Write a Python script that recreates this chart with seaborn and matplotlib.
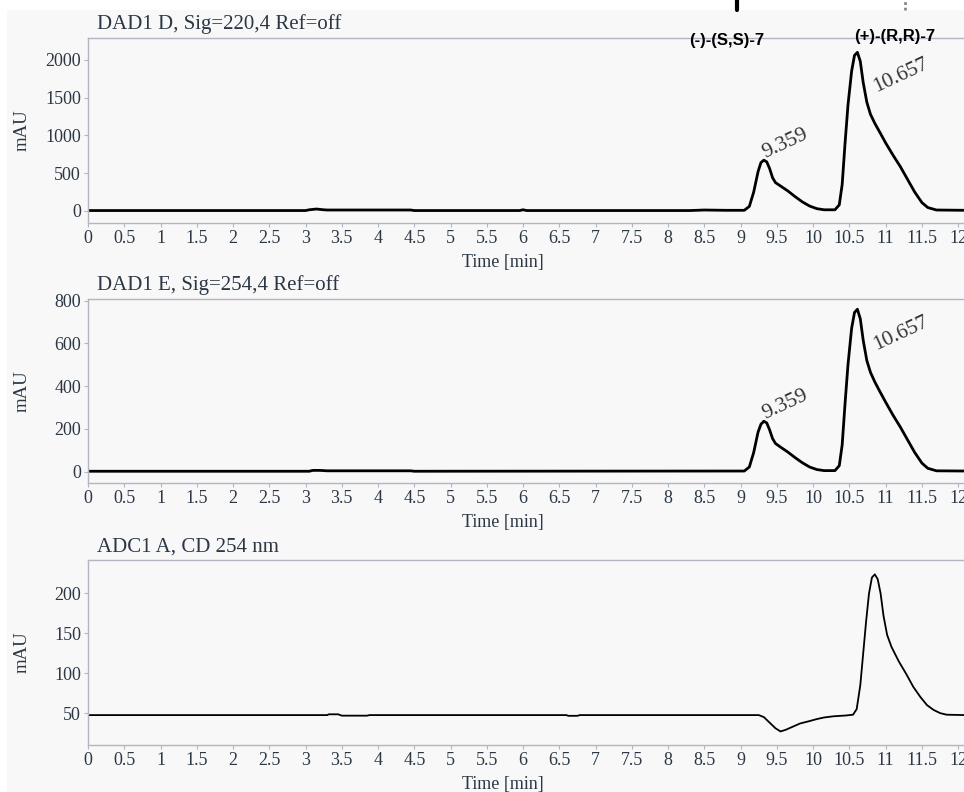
import matplotlib
matplotlib.use("Agg")
import matplotlib.pyplot as plt
import seaborn as sns
from matplotlib.lines import Line2D
from matplotlib.patches import Rectangle

# DAD1 D, 220 nm trace (time in min, signal in mAU)
t_dad_d = [0, 3.0, 3.05, 3.15, 3.25, 3.3, 4.45, 4.5, 5.95, 6.0, 6.05, 8.3, 8.5, 8.8,
           9.05, 9.12, 9.18, 9.24, 9.28, 9.32, 9.36, 9.40, 9.44, 9.48, 9.55, 9.65, 9.75,
           9.85, 9.95, 10.05, 10.15, 10.30, 10.36, 10.40, 10.44, 10.48, 10.53, 10.57,
           10.61, 10.65, 10.69, 10.74, 10.79, 10.85, 10.92, 11.00, 11.10, 11.20, 11.30,
           11.40, 11.50, 11.58, 11.70, 12.1]
y_dad_d = [5, 5, 15, 25, 15, 12, 12, 5, 5, 15, 5, 5, 12, 8,
           8, 60, 250, 520, 640, 672, 650, 560, 440, 375, 330, 265, 190,
           120, 65, 30, 15, 15, 80, 350, 900, 1400, 1850, 2060,
           2100, 1980, 1700, 1440, 1280, 1160, 1040, 900, 740, 590, 420,
           250, 110, 45, 12, 8]

# DAD1 E, 254 nm trace
t_dad_e = [0, 3.05, 3.1, 3.2, 3.3, 4.45, 4.5, 9.05, 9.12, 9.18, 9.24, 9.28, 9.32,
           9.36, 9.40, 9.44, 9.48, 9.55, 9.65, 9.75, 9.85, 9.95, 10.05, 10.15, 10.30,
           10.36, 10.40, 10.44, 10.48, 10.53, 10.57, 10.61, 10.65, 10.69, 10.74,
           10.79, 10.85, 10.92, 11.00, 11.10, 11.20, 11.30, 11.40, 11.50, 11.58, 11.70, 12.1]
y_dad_e = [2, 2, 6, 6, 4, 4, 2, 3, 22, 90, 185, 222, 236,
           228, 195, 155, 132, 115, 92, 66, 42, 22, 10, 5, 5,
           28, 125, 320, 500, 670, 745, 760, 715, 615, 520,
           465, 420, 375, 325, 265, 210, 150, 90, 40, 16, 4, 3]

# ADC1 A, CD 254 nm trace
t_cd = [0, 3.3, 3.32, 3.45, 3.5, 3.85, 3.88, 6.6, 6.62, 6.75, 6.78, 9.25, 9.32,
        9.40, 9.48, 9.55, 9.62, 9.72, 9.82, 9.95, 10.05, 10.15, 10.28, 10.45,
        10.55, 10.60, 10.65, 10.69, 10.73, 10.77, 10.81, 10.85, 10.89, 10.93,
        10.97, 11.02, 11.08, 11.18, 11.29, 11.38, 11.48, 11.57, 11.66, 11.75,
        11.84, 12.1]
y_cd = [47.5, 47.5, 48.5, 48.5, 46.8, 46.8, 47.5, 47.5, 46.6, 46.6, 47.5, 47.5, 45,
        38, 31, 27, 29, 33, 37, 40, 42.5, 44.5, 46, 47,
        48, 55, 85, 125, 165, 200, 220, 224, 218, 200,
        172, 148, 133, 115, 98, 83, 70, 60, 54, 50,
        48, 47.5]

titles = ["DAD1 D, Sig=220,4 Ref=off", "DAD1 E, Sig=254,4 Ref=off", "ADC1 A, CD 254 nm"]
peak_times = [9.359, 10.657]
peak_labels = ["9.359", "10.657"]
peak_heights_d = [670, 2100]
peak_heights_e = [235, 760]
x_ticks = [0, 0.5, 1, 1.5, 2, 2.5, 3, 3.5, 4, 4.5, 5, 5.5, 6, 6.5, 7, 7.5, 8, 8.5,
           9, 9.5, 10, 10.5, 11, 11.5, 12]
x_tick_labels = ["0", "0.5", "1", "1.5", "2", "2.5", "3", "3.5", "4", "4.5", "5", "5.5",
                 "6", "6.5", "7", "7.5", "8", "8.5", "9", "9.5", "10", "10.5", "11",
                 "11.5", "12"]

sns.set_theme(style="ticks")
plt.rcParams["font.family"] = ["Liberation Serif", "DejaVu Serif"]

bg = "#f8f8f8"
spine_col = "#b4b4c4"
txt_col = "#2b3745"

fig = plt.figure(figsize=(9.64, 7.92), dpi=100, facecolor=bg)
W, H = 964.0, 792.0

def make_ax(top_px, bottom_px):
    return fig.add_axes([88 / W, 1 - bottom_px / H, (964 - 88) / W, (bottom_px - top_px) / H])

ax1 = make_ax(38, 223)
ax2 = make_ax(299, 483)
ax3 = make_ax(560, 745)

sns.lineplot(x=t_dad_d, y=y_dad_d, ax=ax1, color="black", lw=2.0, sort=False)
sns.lineplot(x=t_dad_e, y=y_dad_e, ax=ax2, color="black", lw=2.0, sort=False)
sns.lineplot(x=t_cd, y=y_cd, ax=ax3, color="black", lw=1.3, sort=False)

ax1.set_ylim(-160, 2290)
ax1.set_yticks([0, 500, 1000, 1500, 2000])
ax2.set_ylim(-53, 808)
ax2.set_yticks([0, 200, 400, 600, 800])
ax3.set_ylim(10, 242)
ax3.set_yticks([50, 100, 150, 200])

for ax, title in zip([ax1, ax2, ax3], titles):
    ax.set_facecolor(bg)
    ax.set_xlim(0, 12.08)
    ax.set_xticks(x_ticks)
    ax.set_xticklabels(x_tick_labels)
    ax.tick_params(colors=spine_col, labelcolor=txt_col, labelsize=13, length=3,
                   width=0.8, pad=2)
    for s in ["left", "bottom", "top"]:
        ax.spines[s].set_color(spine_col)
        ax.spines[s].set_linewidth(1.0)
    ax.spines["right"].set_visible(False)
    ax.set_xlabel("Time [min]", fontsize=13, color=txt_col, va="top")
    ax.xaxis.set_label_coords(0.474, -0.17)
    ax.set_ylabel("mAU", fontsize=13.5, color=txt_col)
    ax.yaxis.set_label_coords(-0.066, 0.5)
    ax.text(0.01, 1.02, title, transform=ax.transAxes, fontsize=15, color=txt_col,
            ha="left", va="bottom")

# retention-time labels
for ax, heights in [(ax1, peak_heights_d), (ax2, peak_heights_e)]:
    for t, h, lab in zip(peak_times, heights, peak_labels):
        if lab == "9.359":
            ax.text(t + 0.01, h * 0.95, lab, rotation=25, fontsize=15.5, color="#333333",
                    ha="left", va="bottom", rotation_mode="anchor")
        else:
            ax.text(t + 0.24, h * 0.72, lab, rotation=25, fontsize=15.5, color="#333333",
                    ha="left", va="bottom", rotation_mode="anchor")

# enantiomer labels above the top trace
fig.text(727 / W, 1 - 41 / H, "(-)-(S,S)-7", family=["Liberation Sans", "DejaVu Sans"],
         fontweight="bold", fontsize=12, color="black", ha="center", va="center")
fig.text(895 / W, 1 - 37 / H, "(+)-(R,R)-7", family=["Liberation Sans", "DejaVu Sans"],
         fontweight="bold", fontsize=12, color="black", ha="center", va="center")

# white crop strips at the top and left of the original picture
fig.patches.append(Rectangle((0, 1 - 10 / H), 1, 10 / H, transform=fig.transFigure,
                             facecolor="white", edgecolor="none", zorder=5))
fig.patches.append(Rectangle((0, 0), 7 / W, 1, transform=fig.transFigure,
                             facecolor="white", edgecolor="none", zorder=5))
fig.lines.append(Line2D([737 / W, 737 / W], [1 - 10 / H, 1], transform=fig.transFigure,
                        color="black", lw=3, zorder=6))
fig.lines.append(Line2D([905 / W, 905 / W], [1 - 10 / H, 1], transform=fig.transFigure,
                        color="#888888", lw=2, ls=(0, (1, 1)), zorder=6))

fig.savefig("out.png", dpi=100, facecolor=bg)
